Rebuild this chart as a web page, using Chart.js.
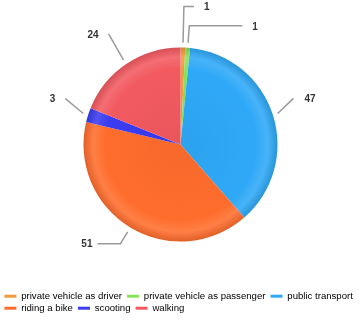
<!DOCTYPE html>
<html>
<head>
<meta charset="utf-8">
<script src="https://cdn.jsdelivr.net/npm/chart.js@4"></script>
<style>
  html, body { margin: 0; padding: 0; background: #fff; }
  #wrap { width: 360px; height: 328px; }
</style>
</head>
<body>
<div id="wrap"><canvas id="chart"></canvas></div>
<script>
const modes = ['private vehicle as driver', 'private vehicle as passenger', 'public transport', 'riding a bike', 'scooting', 'walking'];
const counts = [1, 1, 47, 51, 3, 24];
const colors = ['#f39a3c', '#86e35a', '#2fa9f7', '#ff6d2d', '#3b3bf2', '#f25a60'];

// leader line per slice: reach past the rim, small angle tweak (deg), horizontal run, gap before the text
const leaders = [
  { reach: 41, turn: 0, run: 10, gap: 10 },
  { reach: 22, turn: 0, run: 53, gap: 10 },
  { reach: 25, turn: -4.5, run: 0, gap: 11 },
  { reach: 19, turn: 0, run: -23, gap: 5 },
  { reach: 27, turn: 4, run: 0, gap: 10 },
  { reach: 35, turn: 1, run: 0, gap: 10 }
];

function shade(hex, amt) {
  const n = parseInt(hex.slice(1), 16);
  let r = n >> 16, g = (n >> 8) & 255, b = n & 255;
  const f = v => Math.round(amt >= 0 ? v + (255 - v) * amt : v * (1 + amt));
  return `rgb(${f(r)},${f(g)},${f(b)})`;
}

// soft bevel: flat body, light band near the rim, darker edge
function sliceFill(context) {
  const chart = context.chart;
  const base = colors[context.dataIndex];
  const area = chart.chartArea;
  if (!area) return base;
  const cx = (area.left + area.right) / 2;
  const cy = (area.top + area.bottom) / 2;
  const r = chart.options.radius;
  const g = chart.ctx.createRadialGradient(cx, cy, 0, cx, cy, r);
  g.addColorStop(0, shade(base, -0.04));
  g.addColorStop(0.78, base);
  g.addColorStop(0.9, shade(base, 0.12));
  g.addColorStop(1, shade(base, -0.12));
  return g;
}

const outLabels = {
  id: 'outLabels',
  afterDatasetsDraw(chart) {
    const ctx = chart.ctx;
    const meta = chart.getDatasetMeta(0);
    ctx.save();
    ctx.strokeStyle = '#9a9a9a';
    ctx.lineWidth = 1.5;
    ctx.fillStyle = '#333';
    ctx.font = 'bold 10px Arial, "Liberation Sans", sans-serif';
    ctx.textBaseline = 'middle';
    meta.data.forEach((arc, i) => {
      const { x, y, startAngle, endAngle, outerRadius } =
        arc.getProps(['x', 'y', 'startAngle', 'endAngle', 'outerRadius'], true);
      const mid = (startAngle + endAngle) / 2;
      const l = leaders[i];
      const bend = mid + l.turn * Math.PI / 180;
      const sx = x + Math.cos(mid) * (outerRadius + 5);
      const sy = y + Math.sin(mid) * (outerRadius + 5);
      const ex = x + Math.cos(bend) * (outerRadius + l.reach);
      const ey = y + Math.sin(bend) * (outerRadius + l.reach);
      const side = l.run !== 0 ? Math.sign(l.run) : (Math.cos(mid) >= 0 ? 1 : -1);
      const tx = ex + l.run;
      ctx.beginPath();
      ctx.moveTo(sx, sy);
      ctx.lineTo(ex, ey);
      if (l.run) ctx.lineTo(tx, ey);
      ctx.stroke();
      ctx.textAlign = side > 0 ? 'left' : 'right';
      ctx.fillText(String(counts[i]), tx + side * l.gap, ey + 1);
    });
    ctx.restore();
  }
};

new Chart(document.getElementById('chart'), {
  type: 'pie',
  data: {
    labels: modes,
    datasets: [{
      data: counts,
      backgroundColor: sliceFill,
      borderWidth: 0
    }]
  },
  options: {
    responsive: true,
    maintainAspectRatio: false,
    animation: false,
    radius: 97,
    layout: { padding: { left: 2, right: 1, top: 0, bottom: 5 } },
    plugins: {
      tooltip: { enabled: false },
      legend: {
        position: 'bottom',
        align: 'start',
        labels: {
          boxWidth: 12,
          boxHeight: 3,
          padding: 2.4,
          color: '#444',
          font: { family: 'Arial, "Liberation Sans", sans-serif', size: 9.6 },
          // a trailing space widens the gap between items without growing the row height
          generateLabels: () => modes.map((m, i) => ({
            text: m + ' ',
            fillStyle: colors[i],
            strokeStyle: colors[i],
            lineWidth: 0,
            hidden: false,
            index: i
          }))
        }
      }
    }
  },
  plugins: [outLabels]
});
</script>
</body>
</html>
